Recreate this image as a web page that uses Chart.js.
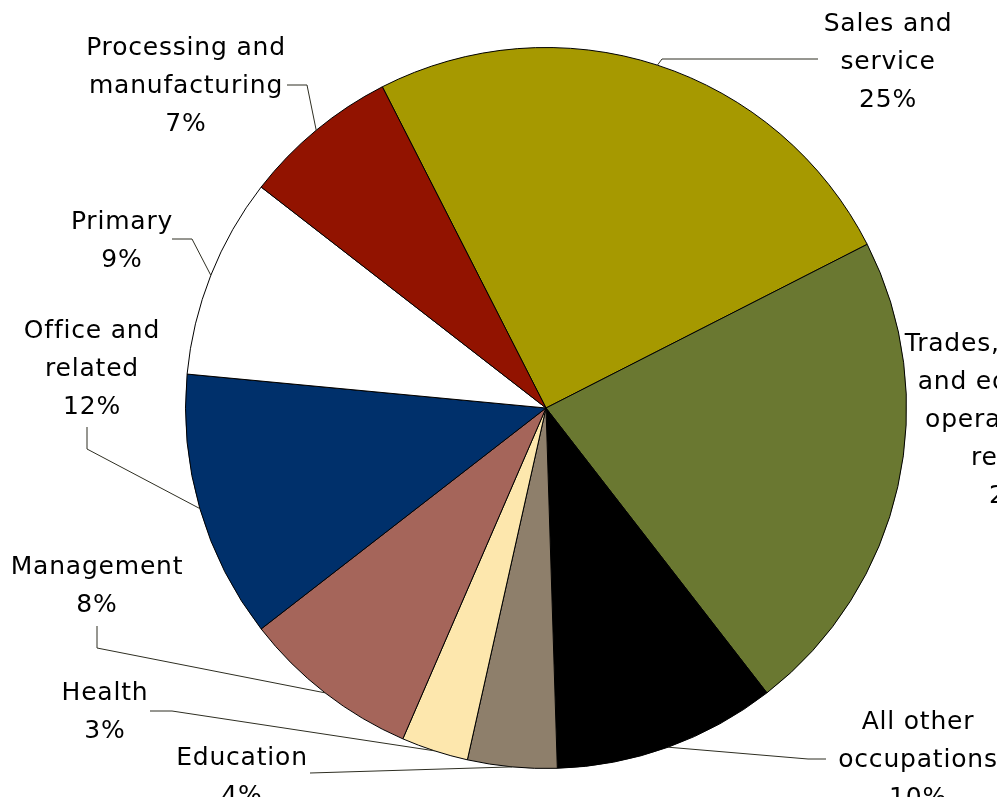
<!DOCTYPE html>
<html>
<head>
<meta charset="utf-8">
<script src="https://cdn.jsdelivr.net/npm/chart.js@4/dist/chart.umd.min.js"></script>
<style>
  html, body { margin: 0; padding: 0; background: #fff; }
  #chart { display: block; }
</style>
</head>
<body>
<canvas id="chart" width="997" height="797"></canvas>
<script>
// occupation groups, clockwise from the top
const categories = [
    'Sales and service',
    'Trades, transport and equipment operators and related',
    'All other occupations',
    'Education',
    'Health',
    'Management',
    'Office and related',
    'Primary',
    'Processing and manufacturing'
];
const shares = [25, 22, 10, 4, 3, 8, 12, 9, 7];
const labelLines = [
    ['Sales and', 'service'],
    ['Trades, transport', 'and equipment', 'operators and', 'related'],
    ['All other', 'occupations'],
    ['Education'],
    ['Health'],
    ['Management'],
    ['Office and', 'related'],
    ['Primary'],
    ['Processing and', 'manufacturing']
];
const sliceColors = ['#a69900', '#6a7831', '#000000', '#8e7f6b', '#fde7ad', '#a5655a', '#00306b', '#ffffff', '#921300'];

// where each label sits (text centre, first line) and its leader elbow points
const labelLayout = [
    { x: 888, y: 24, leader: [[818, 59], [662, 59]] },
    { x: 1018, y: 344, leader: null },
    { x: 918, y: 722, leader: [[826, 759], [808, 759]] },
    { x: 242, y: 758, leader: [[310, 773]] },
    { x: 105, y: 693, leader: [[150, 711], [172, 711]] },
    { x: 97, y: 567, leader: [[97, 626], [97, 648]] },
    { x: 92, y: 331, leader: [[87, 427], [87, 449]] },
    { x: 122, y: 222, leader: [[172, 239], [192, 239]] },
    { x: 186, y: 48, leader: [[287, 85], [307, 85]] }
];
const lineHeight = 38;

const outsideLabels = {
    id: 'outsideLabels',
    afterDraw(chart) {
        const ctx = chart.ctx;
        const arcs = chart.getDatasetMeta(0).data;
        ctx.save();
        // leader lines
        ctx.strokeStyle = '#2e2e22';
        ctx.lineWidth = 1;
        arcs.forEach((arc, i) => {
            const lay = labelLayout[i];
            if (!lay.leader) return;
            const mid = (arc.startAngle + arc.endAngle) / 2;
            const ex = arc.x + Math.cos(mid) * arc.outerRadius;
            const ey = arc.y + Math.sin(mid) * arc.outerRadius;
            ctx.beginPath();
            ctx.moveTo(lay.leader[0][0], lay.leader[0][1]);
            for (let k = 1; k < lay.leader.length; k++) ctx.lineTo(lay.leader[k][0], lay.leader[k][1]);
            ctx.lineTo(ex, ey);
            ctx.stroke();
        });
        // label text
        ctx.fillStyle = '#000';
        ctx.font = '25px "DejaVu Sans"';
        ctx.letterSpacing = '0.8px';
        ctx.textAlign = 'center';
        ctx.textBaseline = 'middle';
        labelLines.forEach((lines, i) => {
            const lay = labelLayout[i];
            const all = lines.concat([shares[i] + '%']);
            all.forEach((t, k) => ctx.fillText(t, lay.x, lay.y + k * lineHeight));
        });
        ctx.restore();
    }
};

new Chart(document.getElementById('chart'), {
    type: 'pie',
    data: {
        labels: categories,
        datasets: [{
            data: shares,
            backgroundColor: sliceColors,
            borderColor: '#000',
            borderWidth: 1
        }]
    },
    options: {
        responsive: false,
        animation: false,
        rotation: -27,
        layout: { padding: { left: 185, right: 90, top: 47, bottom: 28 } },
        plugins: {
            legend: { display: false },
            tooltip: { enabled: false }
        }
    },
    plugins: [outsideLabels]
});
</script>
</body>
</html>
